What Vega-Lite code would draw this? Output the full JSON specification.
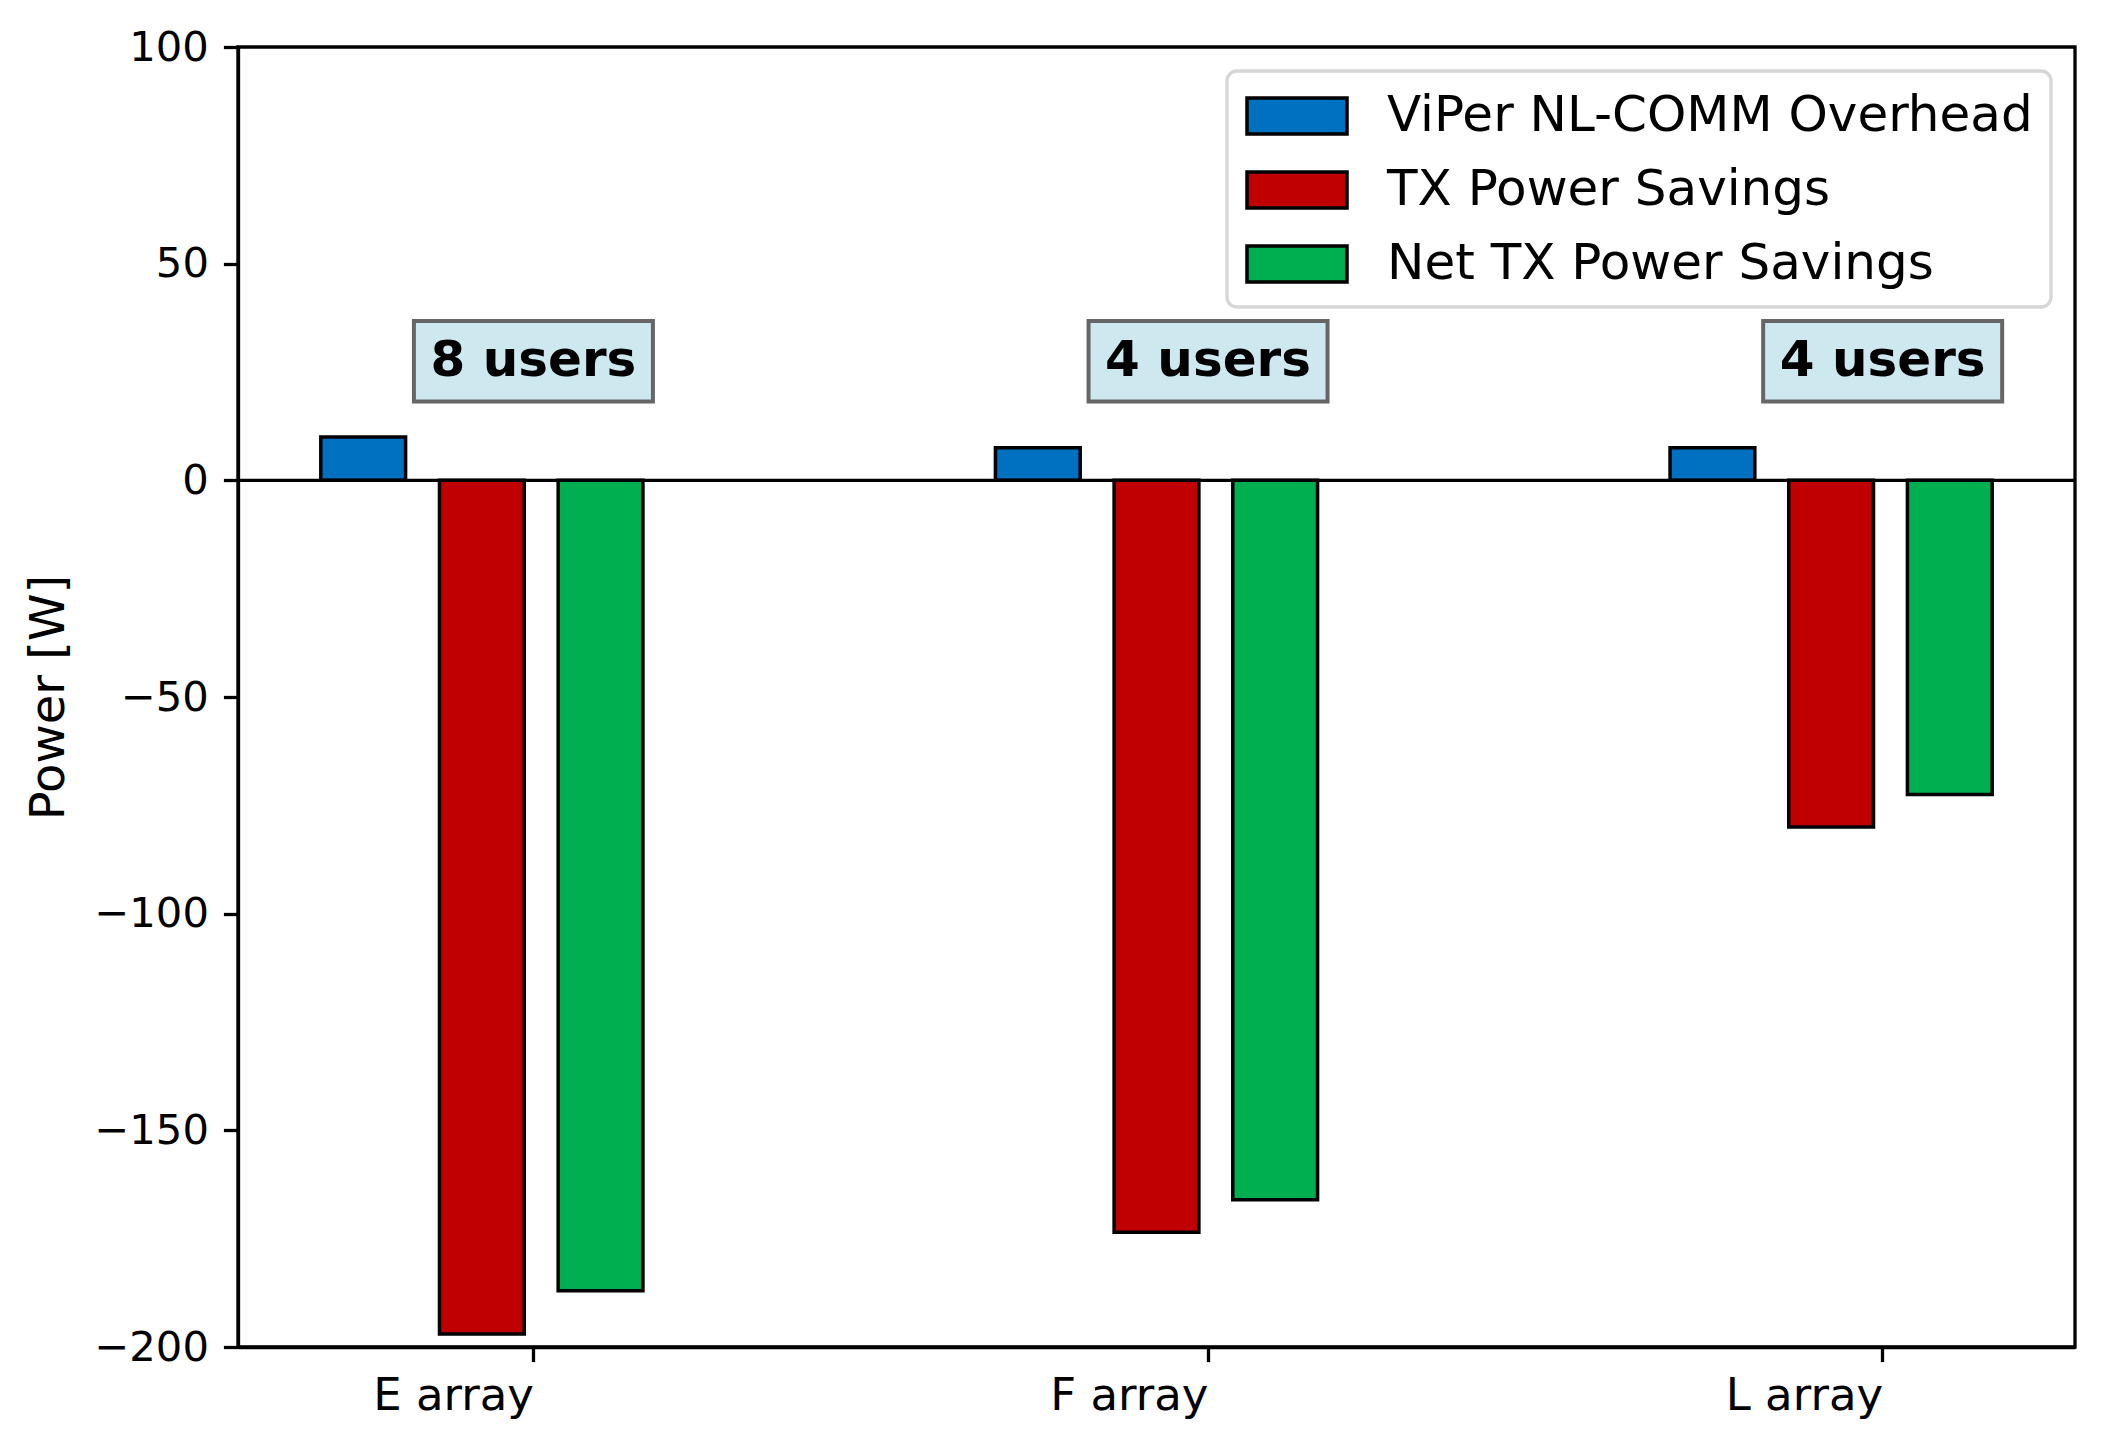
{
  "$schema": "https://vega.github.io/schema/vega-lite/v6.json",
  "width": 1837,
  "height": 1300,
  "autosize": {"type": "none"},
  "padding": {"left": 238, "top": 47, "right": 31, "bottom": 105},
  "background": "white",
  "config": {
    "font": "DejaVu Sans",
    "view": {"stroke": "black", "strokeWidth": 3.3},
    "axis": {"grid": false},
    "legend": {"strokeColor": "#d6d6d6", "strokeWidth": 3.3, "fillColor": "white", "cornerRadius": 10}
  },
  "layer": [
    {
      "data": {
        "values": [
          {"cat": "E array", "series": "ViPer NL-COMM Overhead", "power": 10},
          {"cat": "E array", "series": "TX Power Savings", "power": -197},
          {"cat": "E array", "series": "Net TX Power Savings", "power": -187},
          {"cat": "F array", "series": "ViPer NL-COMM Overhead", "power": 7.5},
          {"cat": "F array", "series": "TX Power Savings", "power": -173.5},
          {"cat": "F array", "series": "Net TX Power Savings", "power": -166},
          {"cat": "L array", "series": "ViPer NL-COMM Overhead", "power": 7.5},
          {"cat": "L array", "series": "TX Power Savings", "power": -80},
          {"cat": "L array", "series": "Net TX Power Savings", "power": -72.5}
        ]
      },
      "mark": {"type": "bar", "stroke": "black", "strokeWidth": 3.5},
      "encoding": {
        "x": {
          "field": "cat",
          "type": "nominal",
          "sort": ["E array", "F array", "L array"],
          "title": null,
          "scale": {"paddingInner": 0.5225, "paddingOuter": 0.12275, "align": 0.5},
          "axis": {
            "labelAngle": 0,
            "labelAlign": "right",
            "labelOffset": 52,
            "bandPosition": 0.66,
            "tickSize": 14.6,
            "tickWidth": 3.3,
            "tickColor": "black",
            "domainColor": "black",
            "domainWidth": 3.3,
            "labelFontSize": 45,
            "labelColor": "black",
            "labelPadding": 12,
            "labelFont": "DejaVu Sans"
          }
        },
        "xOffset": {
          "field": "series",
          "type": "nominal",
          "sort": ["ViPer NL-COMM Overhead", "TX Power Savings", "Net TX Power Savings"],
          "scale": {"paddingInner": 0.2857, "paddingOuter": 0}
        },
        "y": {
          "field": "power",
          "type": "quantitative",
          "scale": {"domain": [-200, 100], "nice": false, "zero": false},
          "axis": {
            "title": "Power [W]",
            "values": [-200, -150, -100, -50, 0, 50, 100],
            "tickSize": 14.6,
            "tickWidth": 3.3,
            "tickColor": "black",
            "domainColor": "black",
            "domainWidth": 3.3,
            "labelFontSize": 41.7,
            "labelColor": "black",
            "labelPadding": 15,
            "labelFont": "DejaVu Sans",
            "titleFont": "DejaVu Sans",
            "titleFontSize": 48,
            "titleFontWeight": "normal",
            "titleColor": "black",
            "titlePadding": 20
          }
        },
        "color": {
          "field": "series",
          "type": "nominal",
          "scale": {
            "domain": ["ViPer NL-COMM Overhead", "TX Power Savings", "Net TX Power Savings"],
            "range": ["#0070c0", "#c00000", "#00b050"]
          },
          "legend": {
            "title": null,
            "orient": "top-right",
            "offset": 24,
            "symbolType": "M-2,-0.72H2V0.72H-2Z",
            "symbolSize": 2500,
            "symbolStrokeColor": "black",
            "symbolStrokeWidth": 3.5,
            "symbolOpacity": 1,
            "symbolOffset": 25,
            "labelOffset": 63,
            "labelFontSize": 50,
            "labelFont": "DejaVu Sans",
            "labelColor": "black",
            "labelLimit": 0,
            "rowPadding": 22,
            "padding": 18
          }
        }
      }
    },
    {
      "data": {"values": [{}]},
      "mark": {"type": "rule", "color": "black", "strokeWidth": 3.3},
      "encoding": {"y": {"datum": 0}}
    },
    {
      "data": {
        "values": [
          {"cat": "E array", "label": "8 users"},
          {"cat": "F array", "label": "4 users"},
          {"cat": "L array", "label": "4 users"}
        ]
      },
      "mark": {
        "type": "point",
        "shape": "M-1,-0.337H1V0.337H-1Z",
        "size": 57121,
        "filled": true,
        "fill": "#cee8f0",
        "stroke": "#666666",
        "strokeWidth": 4,
        "opacity": 1
      },
      "encoding": {
        "x": {"field": "cat", "type": "nominal", "bandPosition": 0.66, "title": null},
        "y": {"datum": 27.5}
      }
    },
    {
      "data": {
        "values": [
          {"cat": "E array", "label": "8 users"},
          {"cat": "F array", "label": "4 users"},
          {"cat": "L array", "label": "4 users"}
        ]
      },
      "mark": {
        "type": "text",
        "fontSize": 50,
        "fontWeight": "bold",
        "font": "DejaVu Sans",
        "align": "center",
        "baseline": "middle",
        "color": "black"
      },
      "encoding": {
        "x": {"field": "cat", "type": "nominal", "bandPosition": 0.66, "title": null},
        "y": {"datum": 27.5},
        "text": {"field": "label"}
      }
    }
  ]
}
